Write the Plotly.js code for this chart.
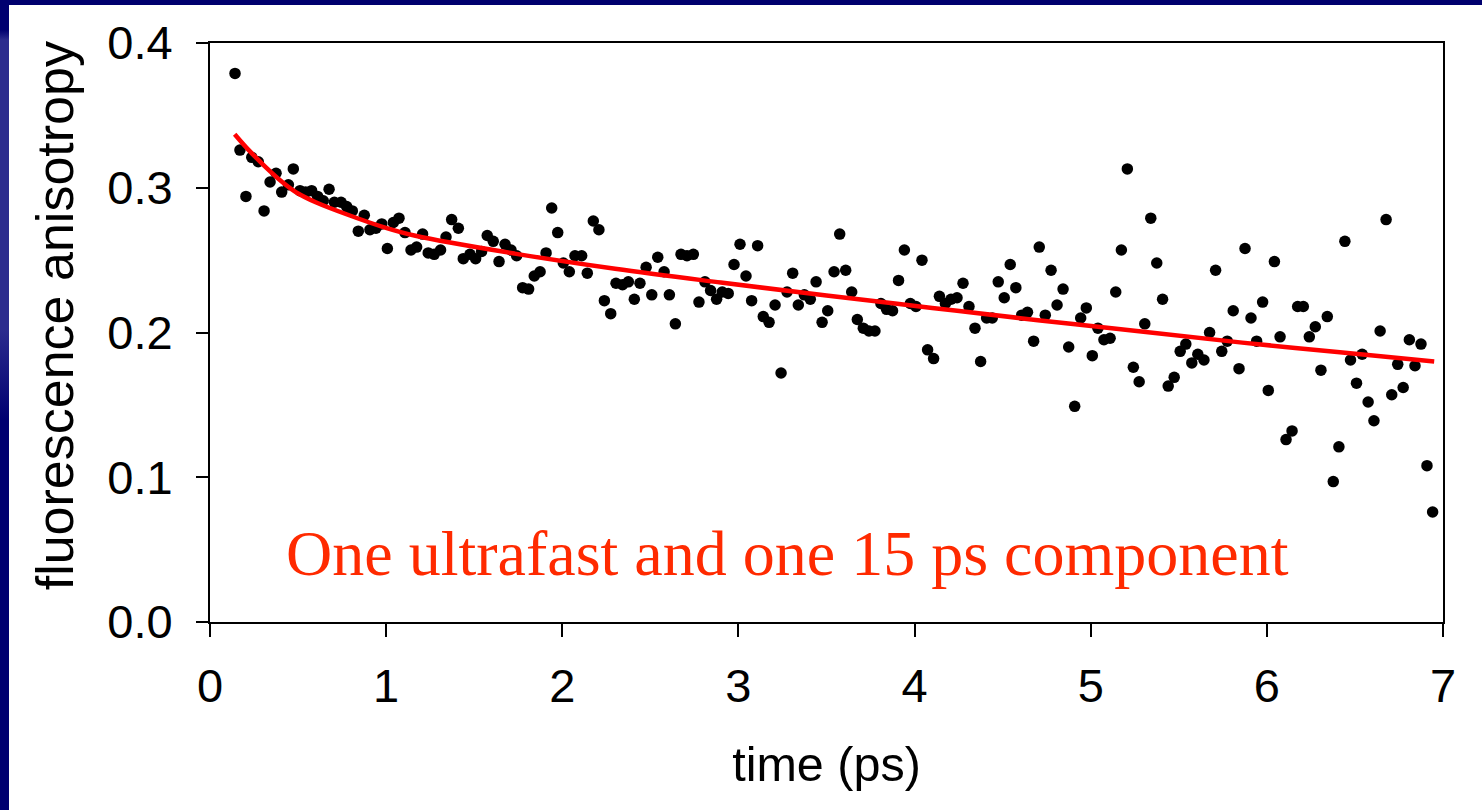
<!DOCTYPE html>
<html>
<head>
<meta charset="utf-8">
<script src="https://cdn.plot.ly/plotly-3.0.1.min.js"></script>
<style>
  html, body { margin: 0; padding: 0; width: 1482px; height: 810px; overflow: hidden; background: #00006e; }
  #strip { position: absolute; left: 0; top: 0; width: 9px; height: 810px;
           background: linear-gradient(to bottom, #000070 0px, #000070 30px, #2c2c8e 40px, #2c2c8e 330px, #000070 420px, #000070 810px); }
  #chart { position: absolute; left: 9px; top: 5px; width: 1473px; height: 805px; background: #fff; }
</style>
</head>
<body>
<div id="strip"></div>
<div id="chart"></div>
<script>
// measured data (time in ps, anisotropy)
const timePs = [
  0.142, 0.170, 0.204, 0.237, 0.274, 0.307, 0.341, 0.375, 0.407, 0.445,
  0.473, 0.511, 0.543, 0.577, 0.611, 0.643, 0.676, 0.706, 0.744, 0.776,
  0.808, 0.842, 0.876, 0.908, 0.942, 0.975, 1.007, 1.041, 1.073, 1.107,
  1.141, 1.173, 1.207, 1.239, 1.273, 1.309, 1.340, 1.372, 1.410, 1.438,
  1.476, 1.508, 1.542, 1.574, 1.608, 1.641, 1.675, 1.709, 1.741, 1.775,
  1.809, 1.841, 1.874, 1.908, 1.940, 1.974, 2.006, 2.040, 2.072, 2.110,
  2.142, 2.176, 2.208, 2.239, 2.275, 2.305, 2.342, 2.375, 2.409, 2.441,
  2.476, 2.508, 2.542, 2.578, 2.608, 2.642, 2.674, 2.708, 2.744, 2.776,
  2.810, 2.842, 2.876, 2.908, 2.942, 2.975, 3.009, 3.043, 3.075, 3.109,
  3.141, 3.174, 3.208, 3.242, 3.276, 3.308, 3.340, 3.374, 3.408, 3.441,
  3.475, 3.507, 3.543, 3.575, 3.609, 3.643, 3.675, 3.709, 3.741, 3.775,
  3.809, 3.841, 3.875, 3.909, 3.942, 3.976, 4.008, 4.042, 4.074, 4.108,
  4.141, 4.175, 4.207, 4.241, 4.275, 4.309, 4.343, 4.375, 4.409, 4.441,
  4.475, 4.509, 4.543, 4.575, 4.608, 4.641, 4.676, 4.708, 4.742, 4.775,
  4.809, 4.843, 4.875, 4.909, 4.943, 4.975, 5.009, 5.041, 5.075, 5.110,
  5.142, 5.174, 5.208, 5.242, 5.275, 5.307, 5.341, 5.375, 5.408, 5.440,
  5.474, 5.508, 5.540, 5.574, 5.608, 5.643, 5.675, 5.709, 5.744, 5.775,
  5.809, 5.842, 5.876, 5.910, 5.942, 5.976, 6.008, 6.043, 6.075, 6.109,
  6.143, 6.175, 6.207, 6.241, 6.275, 6.307, 6.343, 6.377, 6.409, 6.443,
  6.475, 6.509, 6.541, 6.575, 6.608, 6.643, 6.677, 6.709, 6.743, 6.774,
  6.809, 6.841, 6.875, 6.909, 6.941
];
const anisotropy = [
  0.379, 0.326, 0.294, 0.321, 0.318, 0.284, 0.304, 0.310, 0.297, 0.302,
  0.313, 0.298, 0.297, 0.298, 0.294, 0.291, 0.299, 0.290, 0.290, 0.287,
  0.284, 0.270, 0.281, 0.271, 0.272, 0.275, 0.258, 0.276, 0.279, 0.269,
  0.257, 0.259, 0.268, 0.255, 0.254, 0.257, 0.266, 0.278, 0.272, 0.251,
  0.254, 0.251, 0.256, 0.267, 0.263, 0.249, 0.261, 0.257, 0.253, 0.231,
  0.230, 0.239, 0.242, 0.255, 0.286, 0.269, 0.248, 0.242, 0.253, 0.253,
  0.241, 0.277, 0.271, 0.222, 0.213, 0.234, 0.233, 0.235, 0.223, 0.234,
  0.245, 0.226, 0.252, 0.242, 0.226, 0.206, 0.254, 0.253, 0.254, 0.221,
  0.235, 0.229, 0.223, 0.228, 0.227, 0.247, 0.261, 0.239, 0.222, 0.260,
  0.211, 0.207, 0.219, 0.172, 0.228, 0.241, 0.219, 0.226, 0.223, 0.235,
  0.207, 0.215, 0.242, 0.268, 0.243, 0.228, 0.209, 0.203, 0.201, 0.201,
  0.220, 0.216, 0.215, 0.236, 0.257, 0.220, 0.218, 0.250, 0.188, 0.182,
  0.225, 0.220, 0.223, 0.224, 0.234, 0.218, 0.203, 0.180, 0.210, 0.210,
  0.235, 0.224, 0.247, 0.231, 0.212, 0.214, 0.194, 0.259, 0.212, 0.243,
  0.219, 0.230, 0.190, 0.149, 0.210, 0.217, 0.184, 0.203, 0.195, 0.196,
  0.228, 0.257, 0.313, 0.176, 0.166, 0.206, 0.279, 0.248, 0.223, 0.163,
  0.169, 0.187, 0.192, 0.179, 0.185, 0.181, 0.200, 0.243, 0.187, 0.194,
  0.215, 0.175, 0.258, 0.210, 0.194, 0.221, 0.160, 0.249, 0.197, 0.126,
  0.132, 0.218, 0.218, 0.197, 0.204, 0.174, 0.211, 0.097, 0.121, 0.263,
  0.181, 0.165, 0.185, 0.152, 0.139, 0.201, 0.278, 0.157, 0.178, 0.162,
  0.195, 0.177, 0.192, 0.108, 0.076
];
// fitted curve
const fitTime = [0.14, 0.22, 0.31, 0.41, 0.50, 0.60, 0.79, 0.98, 1.16, 1.73, 2.30, 2.90, 3.50, 4.10, 4.70, 5.30, 5.86, 6.40, 6.95];
const fitAniso = [0.337, 0.326, 0.315, 0.304, 0.296, 0.290, 0.281, 0.273, 0.267, 0.2545, 0.244, 0.2345, 0.2255, 0.217, 0.2085, 0.2005, 0.193, 0.1865, 0.180];

const xTicks = [0, 1, 2, 3, 4, 5, 6, 7];
const yTicks = [0.0, 0.1, 0.2, 0.3, 0.4];
const xTitle = 'time (ps)';
const yTitle = 'fluorescence anisotropy';
const noteText = 'One ultrafast and one 15 ps component';

const font = 'Liberation Sans, Arial, Helvetica, sans-serif';

const traces = [
  {
    x: timePs, y: anisotropy, type: 'scatter', mode: 'markers',
    marker: { color: '#000', size: 11.5 },
    hoverinfo: 'x+y', showlegend: false
  },
  {
    x: fitTime, y: fitAniso, type: 'scatter', mode: 'lines',
    line: { color: '#ff0000', width: 4.5, shape: 'spline', smoothing: 1 },
    showlegend: false
  }
];

const layout = {
  width: 1473, height: 805,
  paper_bgcolor: '#ffffff', plot_bgcolor: '#ffffff',
  margin: { l: 201, r: 39, t: 38, b: 188, pad: 0 },
  font: { family: font, color: '#000', size: 46 },
  xaxis: {
    range: [0, 7], tickvals: xTicks, ticktext: xTicks.map(String),
    showgrid: false, zeroline: false,
    showline: true, linecolor: '#000', linewidth: 2, mirror: true,
    ticks: 'outside', ticklen: 13, tickwidth: 2, tickcolor: '#000',
    ticklabelstandoff: 9,
    tickfont: { family: font, size: 47, color: '#000' },
    title: { text: xTitle, font: { family: font, size: 48.5, color: '#000' }, standoff: 36 }
  },
  yaxis: {
    range: [0, 0.4], tickvals: yTicks, ticktext: yTicks.map(v => v.toFixed(1)),
    showgrid: false, zeroline: false,
    showline: true, linecolor: '#000', linewidth: 2, mirror: true,
    ticks: 'outside', ticklen: 12, tickwidth: 2, tickcolor: '#000',
    ticklabelstandoff: 14,
    tickfont: { family: font, size: 47, color: '#000' }
  },
  annotations: [
    {
      // y-axis title, placed as in the original
      x: -0.1257, y: 0.528, xref: 'paper', yref: 'paper',
      text: yTitle, showarrow: false, textangle: -90,
      font: { family: font, size: 52, color: '#000' },
      xanchor: 'center', yanchor: 'middle'
    },
    {
      x: 3.28, y: 0.047, xref: 'x', yref: 'y',
      text: noteText, showarrow: false,
      font: { family: 'Liberation Serif, Times New Roman, serif', size: 64, color: '#ff2a00' },
      xanchor: 'center', yanchor: 'middle'
    }
  ]
};

Plotly.newPlot('chart', traces, layout, { displayModeBar: false, staticPlot: true });
</script>
</body>
</html>
